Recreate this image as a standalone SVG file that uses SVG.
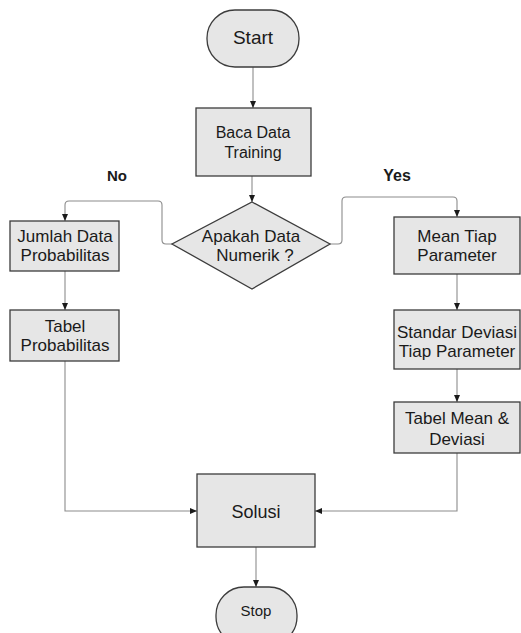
<svg xmlns="http://www.w3.org/2000/svg" width="521" height="633" viewBox="0 0 521 633">
<defs>
<marker id="arr" markerUnits="userSpaceOnUse" markerWidth="7" markerHeight="6" refX="7" refY="3" orient="auto">
<path d="M0,0 L7,3 L0,6 z" fill="#1a1a1a"/>
</marker>
<style>
.box{fill:#e6e6e6;stroke:#3c3c3c;stroke-width:1.3}
.t{font-family:"Liberation Sans",Arial,sans-serif;font-size:17px;fill:#1a1a1a;text-anchor:middle}
.lbl{font-family:"Liberation Sans",Arial,sans-serif;font-weight:bold;fill:#1a1a1a;text-anchor:middle}
.c{fill:none;stroke:#8c8c8c;stroke-width:1.1}
.a{marker-end:url(#arr)}
</style>
</defs>
<rect width="521" height="633" fill="#ffffff"/>
<g id="connectors">
<path class="c a" d="M253,67 V108"/>
<path class="c a" d="M252,176 V202"/>
<path class="c a" d="M172,244 H166 Q162,244 162,240 V205 Q162,201 158,201 H69 Q65,201 65,205 V221"/>
<path class="c a" d="M330,244 H338 Q342,244 342,240 V201 Q342,197 346,197 H453 Q457,197 457,201 V217"/>
<path class="c a" d="M65,271 V310"/>
<path class="c a" d="M457,274 V310"/>
<path class="c a" d="M457,369 V402"/>
<path class="c a" d="M65,361 V511 H197"/>
<path class="c a" d="M457,453 V511 H315"/>
<path class="c a" d="M256,547 V587"/>
</g>
<g id="start">
<rect class="box" x="207" y="10" width="92" height="57" rx="28" ry="28"/>
<text class="t" x="253" y="44" style="font-size:19px">Start</text>
</g>
<g id="baca">
<rect class="box" x="196" y="108" width="115" height="68"/>
<text class="t" x="253" y="138" style="font-size:16px">Baca Data</text>
<text class="t" x="253" y="158" style="font-size:16px">Training</text>
</g>
<g id="decision">
<polygon class="box" points="252,202 330,244 252,289 172,244"/>
<text class="t" x="251" y="242">Apakah Data</text>
<text class="t" x="255" y="261">Numerik ?</text>
</g>
<g id="label-no">
<text class="lbl" x="117" y="181" style="font-size:15px">No</text>
</g>
<g id="label-yes">
<text class="lbl" x="397" y="181" style="font-size:16px">Yes</text>
</g>
<g id="jumlah">
<rect class="box" x="10" y="221" width="109" height="50"/>
<text class="t" x="65" y="242">Jumlah Data</text>
<text class="t" x="65" y="261">Probabilitas</text>
</g>
<g id="tabel-prob">
<rect class="box" x="10" y="310" width="109" height="51"/>
<text class="t" x="65" y="332">Tabel</text>
<text class="t" x="65" y="351">Probabilitas</text>
</g>
<g id="mean">
<rect class="box" x="394" y="217" width="126" height="57"/>
<text class="t" x="457" y="242">Mean Tiap</text>
<text class="t" x="457" y="261">Parameter</text>
</g>
<g id="standar">
<rect class="box" x="394" y="310" width="126" height="59"/>
<text class="t" x="457" y="338">Standar Deviasi</text>
<text class="t" x="457" y="357">Tiap Parameter</text>
</g>
<g id="tabel-mean">
<rect class="box" x="394" y="402" width="126" height="51"/>
<text class="t" x="457" y="424">Tabel Mean &amp;</text>
<text class="t" x="457" y="445">Deviasi</text>
</g>
<g id="solusi">
<rect class="box" x="197" y="474" width="118" height="73"/>
<text class="t" x="256" y="518" style="font-size:18px">Solusi</text>
</g>
<g id="stop">
<rect class="box" x="216" y="587" width="81" height="58" rx="28" ry="28"/>
<text class="t" x="256" y="616" style="font-size:15px">Stop</text>
</g>
</svg>
